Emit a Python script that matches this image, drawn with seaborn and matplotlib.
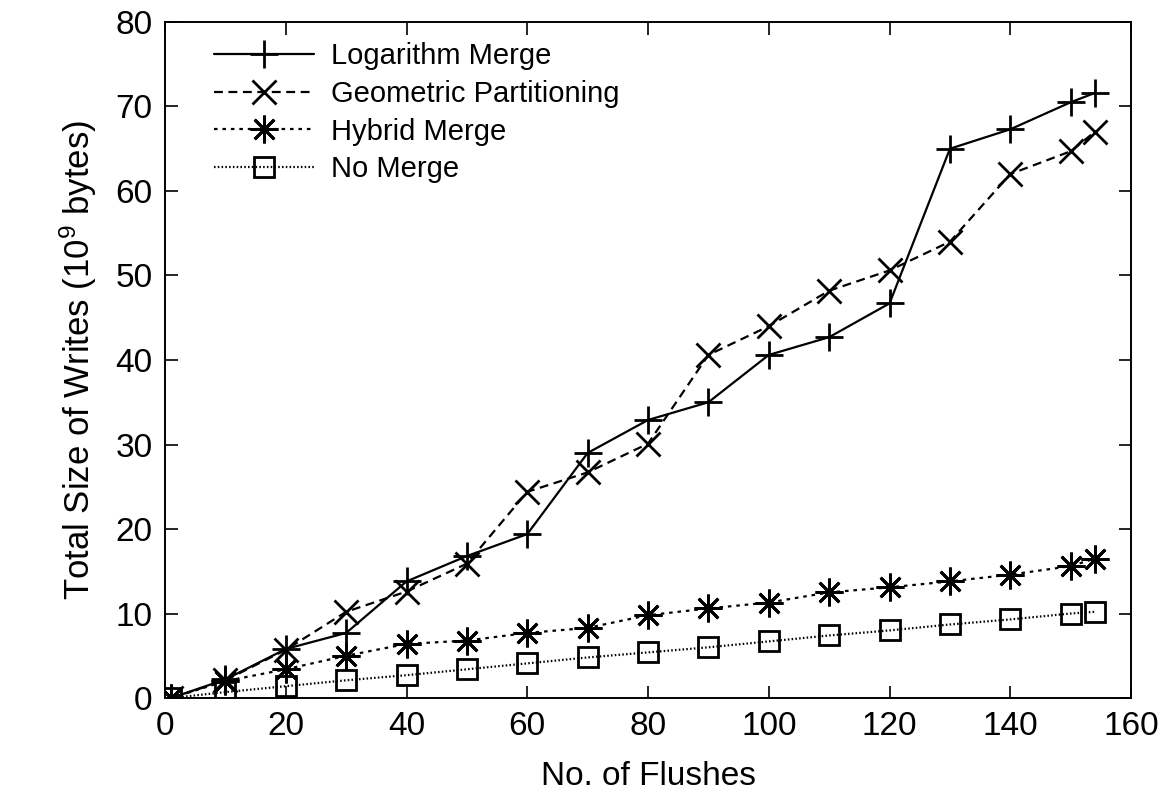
import matplotlib
matplotlib.use("Agg")
import matplotlib.pyplot as plt
import seaborn as sns
import pandas as pd

# Number of flushes at which the cumulative write volume was sampled
flushes = [1, 10, 20, 30, 40, 50, 60, 70, 80, 90, 100, 110, 120, 130, 140, 150, 154]

# Total size of writes (10^9 bytes) per merge policy
log_merge = [0.0, 2.2, 5.8, 7.7, 13.8, 16.8, 19.4, 29.0, 32.9, 35.0, 40.6, 42.7, 46.7, 65.0, 67.3, 70.5, 71.6]
geo_part = [0.0, 2.1, 5.7, 10.2, 12.6, 15.9, 24.4, 26.7, 30.1, 40.6, 44.0, 48.2, 50.6, 54.0, 62.0, 64.7, 67.0]
hybrid = [0.0, 2.0, 3.4, 5.0, 6.4, 6.8, 7.7, 8.3, 9.8, 10.6, 11.3, 12.5, 13.1, 13.8, 14.6, 15.6, 16.5]
no_merge = [0.0, 0.7, 1.4, 2.1, 2.7, 3.4, 4.1, 4.8, 5.4, 6.0, 6.7, 7.4, 8.0, 8.7, 9.3, 10.0, 10.2]

labels = ["Logarithm Merge", "Geometric Partitioning", "Hybrid Merge", "No Merge"]
series = [log_merge, geo_part, hybrid, no_merge]

x_ticks = [0, 20, 40, 60, 80, 100, 120, 140, 160]
y_ticks = [0, 10, 20, 30, 40, 50, 60, 70, 80]

sns.set_theme(style="ticks")
plt.rcParams["font.family"] = ["Liberation Sans", "DejaVu Sans"]
plt.rcParams["mathtext.default"] = "regular"
plt.rcParams["text.color"] = "black"
plt.rcParams["axes.labelcolor"] = "black"

fig = plt.figure(figsize=(11.67, 8.05), dpi=100)
ax = fig.add_axes([0.1414, 0.1329, 0.8278, 0.8398])

styles = [
    dict(linestyle="-", marker="+", markersize=20),
    dict(linestyle=(0, (4, 2.5)), marker="x", markersize=17),
    dict(linestyle=(0, (1.6, 2.2)), marker=(8, 2, 0), markersize=20),
    dict(linestyle=(0, (0.7, 1.0)), marker="s", markersize=15),
]

for lab, vals, st in zip(labels, series, styles):
    df = pd.DataFrame({"Flushes": flushes, "Writes": vals})
    sns.lineplot(
        data=df, x="Flushes", y="Writes", ax=ax, label=lab,
        color="black", linewidth=1.6,
        markeredgecolor="black", markerfacecolor="none", markeredgewidth=2.0,
        **st,
    )

ax.set_xlim(0, 160)
ax.set_ylim(0, 80)
ax.set_xticks(x_ticks)
ax.set_yticks(y_ticks)
ax.tick_params(direction="in", length=9, width=1.2, top=True, right=True,
               labelsize=24, colors="black", pad=9)
for sp in ax.spines.values():
    sp.set_color("black")
    sp.set_linewidth(1.4)

ax.set_xlabel("No. of Flushes", fontsize=24, labelpad=14, color="black")
ax.set_ylabel("Total Size of Writes (10$^{9}$ bytes)", fontsize=25,
              labelpad=12, color="black")

leg = ax.legend(loc="upper left", bbox_to_anchor=(0.03, 1.0), frameon=False,
                fontsize=21, handlelength=3.4, labelspacing=0.33,
                handletextpad=0.6, borderaxespad=0.3)
for t in leg.get_texts():
    t.set_color("black")

fig.savefig("out.png", dpi=100)
